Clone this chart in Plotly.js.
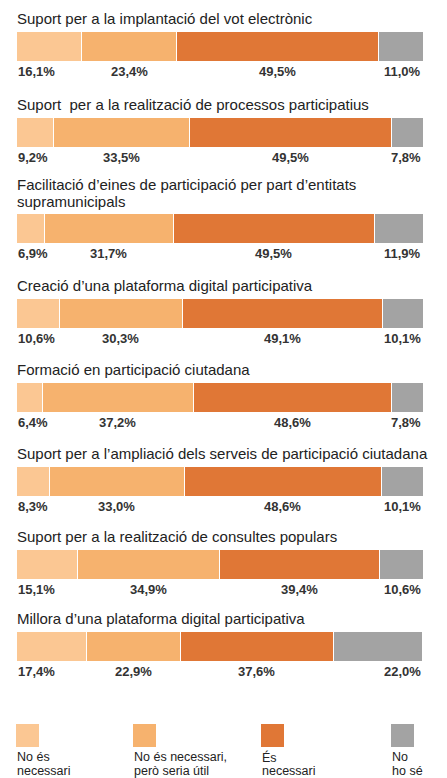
<!DOCTYPE html>
<html>
<head>
<meta charset="utf-8">
<script src="https://cdn.plot.ly/plotly-3.0.1.min.js"></script>
<style>html,body{margin:0;padding:0;background:#fff;}</style>
</head>
<body>
<div id="chart" style="width:447px;height:778px;"></div>
<script>
// ---- data ----
const items = [
  'Suport per a la implantació del vot electrònic',
  'Suport\u00a0 per a la realització de processos participatius',
  'Facilitació d\u2019eines de participació per part d\u2019entitats\nsupramunicipals',
  'Creació d\u2019una plataforma digital participativa',
  'Formació en participació ciutadana',
  'Suport per a l\u2019ampliació dels serveis de participació ciutadana',
  'Suport per a la realització de consultes populars',
  'Millora d\u2019una plataforma digital participativa'
];
const noEsNecessari   = [16.1, 9.2, 6.9, 10.6, 6.4, 8.3, 15.1, 17.4];
const noEsPeroUtil    = [23.4, 33.5, 31.7, 30.3, 37.2, 33.0, 34.9, 22.9];
const esNecessari     = [49.5, 49.5, 49.5, 49.1, 48.6, 48.6, 39.4, 37.6];
const noHoSe          = [11.0, 7.8, 11.9, 10.1, 7.8, 10.1, 10.6, 22.0];
const seriesNames = ['No és necessari', 'No és necessari, però seria útil', 'És necessari', 'No ho sé'];
const legendLabels = [['No és', 'necessari'], ['No és necessari,', 'però seria útil'], ['És', 'necessari'], ['No', 'ho sé']];

// ---- style / layout ----
const colors = ['#FBC793', '#F6B26E', '#E07736', '#A3A3A3'];
const series = [noEsNecessari, noEsPeroUtil, esNecessari, noHoSe];
const W = 447, H = 778;
const barTops = [31, 117, 213, 298, 382, 466, 549, 631];
const barH = 30;
const FONT = 'Liberation Sans, Arial, Helvetica, sans-serif';
const fmt = v => v.toFixed(1).replace('.', ',') + '%';

const traces = [];
const annotations = [];
const shapes = [];
const layout = {
  width: W, height: H,
  margin: {l: 16, r: 24, t: 0, b: 0, pad: 0},
  paper_bgcolor: '#fff', plot_bgcolor: '#fff',
  barmode: 'stack', bargap: 0,
  showlegend: false,
  xaxis: {range: [0, 100], visible: false, fixedrange: true},
  font: {family: FONT, color: '#222'}
};

items.forEach((title, i) => {
  const yName = i === 0 ? 'y' : 'y' + (i + 1);
  const axKey = i === 0 ? 'yaxis' : 'yaxis' + (i + 1);
  const top = barTops[i], bottom = top + barH;
  layout[axKey] = {
    domain: [1 - bottom / H, 1 - top / H],
    range: [-0.5, 0.5], visible: false, fixedrange: true, anchor: 'x'
  };
  let cum = 0;
  series.forEach((s, k) => {
    const v = s[i];
    traces.push({
      type: 'bar', orientation: 'h', x: [v], y: [0],
      xaxis: 'x', yaxis: yName, name: seriesNames[k],
      marker: {color: colors[k], line: {color: '#fff', width: 1}},
      hoverinfo: 'x+name'
    });
    let ax = cum + v / 2, anchor = 'center';
    if (k === 0) { ax = 0; anchor = 'left'; }
    if (k === series.length - 1) { ax = 100; anchor = 'right'; }
    annotations.push({
      xref: 'x', yref: yName + ' domain', x: ax, y: 0,
      xanchor: anchor, yanchor: 'top', yshift: -1,
      text: fmt(v), showarrow: false,
      font: {family: FONT, size: 13, color: '#333', weight: 'bold'}
    });
    cum += v;
  });
  const lines = title.split('\n');
  lines.forEach((ln, j) => {
    annotations.push({
      xref: 'paper', yref: yName + ' domain', x: 0, y: 1,
      xanchor: 'left', yanchor: 'bottom', borderpad: 0,
      yshift: (lines.length > 1 ? 2 : 3) + (lines.length - 1 - j) * 17,
      text: ln, showarrow: false,
      font: {family: FONT, size: 15, color: '#222'}
    });
  });
});

// legend (drawn manually: square above a two-line label)
const legendX = [16, 133, 261, 391];
const legTop = 724, legSize = 23;
legendLabels.forEach((lab, k) => {
  const px = legendX[k];
  const xf0 = (px - 16) / 407, xf1 = (px + legSize - 16) / 407;
  shapes.push({
    type: 'rect', xref: 'paper', yref: 'paper',
    x0: xf0, x1: xf1, y0: 1 - (legTop + legSize) / H, y1: 1 - legTop / H,
    fillcolor: colors[k], line: {width: 0}
  });
  lab.forEach((t, j) => {
    annotations.push({
      xref: 'paper', yref: 'paper', x: xf0, y: 1 - (749 + j * 13.5) / H,
      xanchor: 'left', yanchor: 'top', borderpad: 0, text: t, showarrow: false,
      font: {family: FONT, size: 12.5, color: '#222'}
    });
  });
});

layout.annotations = annotations;
layout.shapes = shapes;

Plotly.newPlot('chart', traces, layout, {displayModeBar: false, staticPlot: true});
</script>
</body>
</html>
